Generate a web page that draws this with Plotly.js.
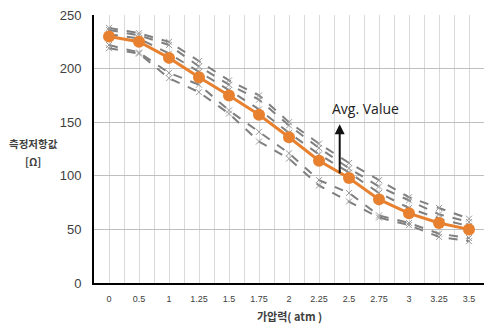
<!DOCTYPE html>
<html><head><meta charset="utf-8">
<script src="https://cdn.plot.ly/plotly-3.0.1.min.js"></script>
<style>html,body{margin:0;padding:0;background:#fff}#chart{width:484px;height:326px}</style>
</head><body><div id="chart"></div>
<script>
const categories = ["0","0.5","1","1.25","1.5","1.75","2","2.25","2.5","2.75","3","3.25","3.5"];
const avgValues = [230,225,210,192,175,157,136,114,98,78,65,56,50];
const sample1 = [238,233,225,207,189,175,150,130,112,96,80,70,60];
const sample2 = [236,231,222,202,185,171,147,126,107,90,77,64,57];
const sample3 = [232,228,214,197,180,162,140,120,103,84,70,60,53];
const sample4 = [222,215,196,185,161,141,121,96,84,63,56,46,42];
const sample5 = [219,214,191,178,158,132,116,91,76,61,54,43,39];
const yTicks = [0,50,100,150,200,250];

const xIdx = categories.map((_, i) => i);
const grayTrace = (vals) => ({
  x: xIdx, y: vals, type: 'scatter', mode: 'lines+markers',
  line: {color: '#7f7f7f', width: 2, dash: 'dash'},
  marker: {symbol: 'x-thin-open', size: 6, color: '#999', line: {color: '#999', width: 1}},
  showlegend: false, hoverinfo: 'skip'
});
const traces = [sample1, sample2, sample3, sample4, sample5].map(grayTrace);
traces.push({
  x: xIdx, y: avgValues, type: 'scatter', mode: 'lines+markers',
  line: {color: '#E8812F', width: 3},
  marker: {symbol: 'circle', size: 12, color: '#E8812F'},
  showlegend: false
});

const layout = {
  width: 484, height: 326,
  margin: {l: 94, r: 0, t: 15, b: 43},
  paper_bgcolor: '#fff', plot_bgcolor: '#fff',
  font: {family: '"Noto Sans CJK KR", "Liberation Sans", sans-serif', color: '#404040'},
  xaxis: {
    range: [-0.5, categories.length - 0.5],
    tickmode: 'array', tickvals: xIdx, ticktext: categories,
    tickfont: {size: 9, color: '#404040', family: '"Liberation Sans", Arial, sans-serif'},
    ticks: '', ticklabelstandoff: 6,
    showgrid: true, gridcolor: '#d9d9d9', gridwidth: 1,
    minor: {tick0: -0.5, dtick: 1, showgrid: true, gridcolor: '#d9d9d9', gridwidth: 1, ticks: ''},
    showline: true, linecolor: '#000', linewidth: 2,
    zeroline: false, fixedrange: true
  },
  yaxis: {
    range: [0, 250], tickmode: 'array', tickvals: yTicks,
    tickfont: {size: 13, color: '#404040', family: '"Liberation Sans", Arial, sans-serif'},
    ticks: '', ticklabelstandoff: 8,
    showgrid: true, gridcolor: '#bfbfbf', gridwidth: 1,
    showline: true, linecolor: '#000', linewidth: 2,
    zeroline: false, fixedrange: true
  },
  annotations: [
    {xref: 'paper', yref: 'paper', x: -0.156, y: 0.52, text: '<b>측정저항값</b>', showarrow: false,
     font: {size: 10.5, color: '#404040'}, xanchor: 'center', yanchor: 'middle'},
    {xref: 'paper', yref: 'paper', x: -0.156, y: 0.455, text: '<b>[Ω]</b>', showarrow: false,
     font: {size: 10.5, color: '#404040'}, xanchor: 'center', yanchor: 'middle'},
    {xref: 'paper', yref: 'paper', x: 0.5, y: -0.123, text: '<b>가압력( atm )</b>', showarrow: false,
     font: {size: 11, color: '#404040'}, xanchor: 'center', yanchor: 'middle'},
    {xref: 'x', yref: 'y', x: 7.69, y: 148, ax: 7.69, ay: 101, axref: 'x', ayref: 'y',
     text: '', showarrow: true, arrowhead: 2, arrowsize: 1, arrowwidth: 2, arrowcolor: '#111'},
    {xref: 'x', yref: 'y', x: 7.38, y: 163, text: 'Avg. Value', showarrow: false,
     xanchor: 'left', yanchor: 'middle',
     font: {size: 14, color: '#222', family: '"Open Sans", "Liberation Sans", sans-serif'}}
  ]
};
Plotly.newPlot('chart', traces, layout, {staticPlot: true, displayModeBar: false});
</script></body></html>
